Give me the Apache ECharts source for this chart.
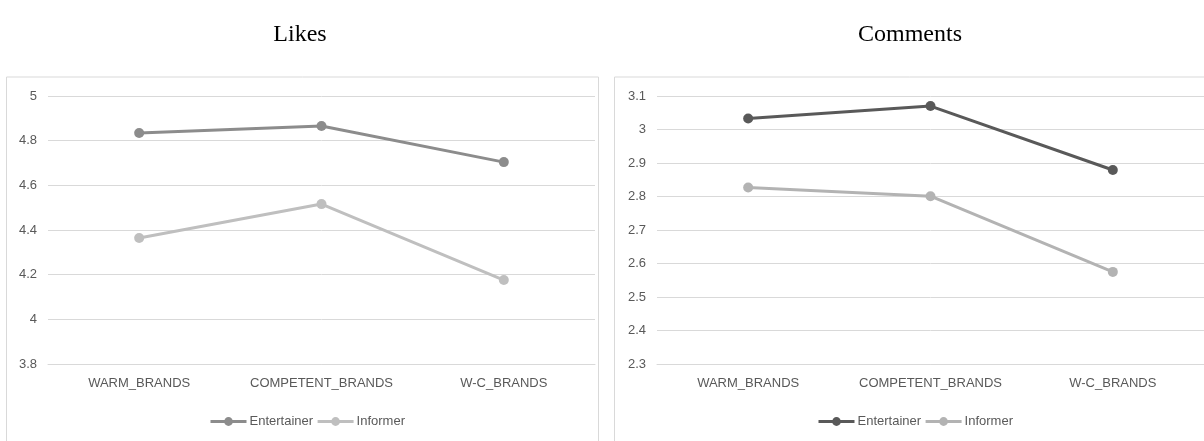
<!DOCTYPE html>
<html>
<head>
<meta charset="utf-8">
<script src="https://cdn.jsdelivr.net/npm/echarts@6/dist/echarts.min.js"></script>
<style>
  html, body { margin: 0; padding: 0; background: #ffffff; }
  #wrap { position: relative; width: 1204px; height: 441px; overflow: hidden; }
  .panel { position: absolute; top: 0; width: 602px; height: 441px; }
</style>
</head>
<body>
<div id="wrap">
  <div id="likes" class="panel" style="left:0"></div>
  <div id="comments" class="panel" style="left:602px"></div>
</div>
<script>
// Brand categories on the x axis
const categories = ['WARM_BRANDS', 'COMPETENT_BRANDS', 'W-C_BRANDS'];

// Likes: mean score per brand type
const likesEntertainer = [4.834, 4.866, 4.704];
const likesInformer = [4.364, 4.516, 4.176];

// Comments: mean score per brand type
const commentsEntertainer = [3.033, 3.070, 2.879];
const commentsInformer = [2.827, 2.801, 2.575];

const likesTicks = { min: 3.8, max: 5, interval: 0.2 };
const commentsTicks = { min: 2.3, max: 3.1, interval: 0.1 };

const labelFont = 'Liberation Sans, Arial, sans-serif';
const labelColor = '#595959';

function lineSeries(name, data, color) {
  return {
    name: name,
    type: 'line',
    data: data,
    symbol: 'circle',
    symbolSize: 10,
    lineStyle: { width: 3, color: color },
    itemStyle: { color: color },
    emphasis: { disabled: true },
    animation: false
  };
}

function buildOption(cfg) {
  return {
    animation: false,
    title: {
      text: cfg.title,
      left: cfg.titleX,
      top: 18,
      textAlign: 'center',
      textStyle: {
        fontFamily: 'Liberation Serif, Times New Roman, serif',
        fontSize: 24,
        fontWeight: 'normal',
        color: '#000000'
      }
    },
    graphic: [{
      type: 'rect',
      shape: { x: cfg.boxX, y: 77, width: cfg.boxW, height: 400 },
      style: { fill: 'none', stroke: '#d9d9d9', lineWidth: 1 },
      silent: true,
      z: -1
    }],
    legend: {
      data: ['Entertainer', 'Informer'],
      left: cfg.legendX,
      top: 410,
      itemWidth: 36,
      itemHeight: 11,
      itemGap: 3,
      selectedMode: false,
      lineStyle: { width: 3 },
      textStyle: { fontFamily: labelFont, fontSize: 13, color: labelColor, padding: [0, 0, 0, -2] }
    },
    grid: { left: cfg.gridLeft, right: cfg.gridRight, top: 96, bottom: 77 },
    xAxis: {
      type: 'category',
      data: categories,
      boundaryGap: true,
      axisLine: { show: true, lineStyle: { color: '#d9d9d9' } },
      axisTick: { show: false },
      axisLabel: {
        fontFamily: labelFont, fontSize: 13, color: labelColor, margin: 13,
        interval: 0, hideOverlap: false
      }
    },
    yAxis: {
      type: 'value',
      min: cfg.ticks.min,
      max: cfg.ticks.max,
      interval: cfg.ticks.interval,
      axisLine: { show: false },
      axisTick: { show: false },
      splitLine: { lineStyle: { color: '#d9d9d9', width: 1 } },
      axisLabel: {
        fontFamily: labelFont, fontSize: 13, color: labelColor, margin: 11,
        formatter: v => String(parseFloat(v.toFixed(2)))
      }
    },
    series: [
      lineSeries('Entertainer', cfg.ent, cfg.entColor),
      lineSeries('Informer', cfg.inf, cfg.infColor)
    ]
  };
}

const likesChart = echarts.init(document.getElementById('likes'), null, { renderer: 'canvas' });
likesChart.setOption(buildOption({
  title: 'Likes', titleX: 295,
  boxX: 6.5, boxW: 592,
  legendX: 204,
  gridLeft: 48, gridRight: 7,
  ticks: likesTicks,
  ent: likesEntertainer, inf: likesInformer,
  entColor: '#8c8c8c', infColor: '#bfbfbf'
}));

const commentsChart = echarts.init(document.getElementById('comments'), null, { renderer: 'canvas' });
commentsChart.setOption(buildOption({
  title: 'Comments', titleX: 303,
  boxX: 12.5, boxW: 620,
  legendX: 210,
  gridLeft: 55, gridRight: 0,
  ticks: commentsTicks,
  ent: commentsEntertainer, inf: commentsInformer,
  entColor: '#595959', infColor: '#b3b3b3'
}));
</script>
</body>
</html>
